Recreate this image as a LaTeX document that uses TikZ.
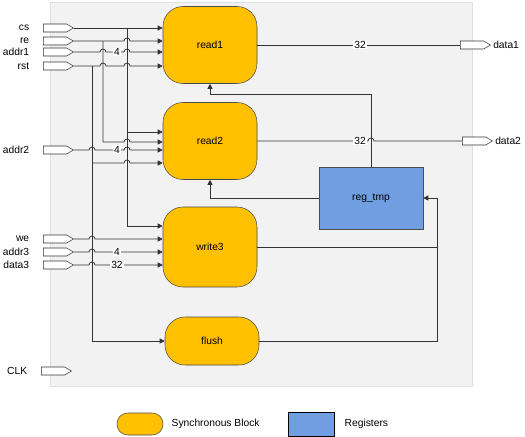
\documentclass[tikz,border=0pt]{standalone}
\usepackage{fontspec}
\setmainfont{Liberation Sans}
\usetikzlibrary{shapes.symbols,arrows.meta}

\definecolor{syncyellow}{RGB}{255,192,0}
\definecolor{regblue}{RGB}{112,158,224}
\definecolor{bggray}{RGB}{242,242,242}

% small hop over a vertical wire at x=#1, y=#2
\newcommand{\hop}[2]{-- (#1-3,#2) arc[start angle=180,end angle=0,radius=2.25pt]}

\tikzset{
  syncblock/.style={draw=black!70, fill=syncyellow, rounded corners=15pt, minimum width=70.5pt, minimum height=57.75pt},
  regblock/.style={draw=black!70, fill=regblue, minimum width=78pt, minimum height=46.5pt},
  port/.style={draw=black!80, fill=white, signal, signal to=east, signal pointer angle=60, minimum width=22.5pt, minimum height=6pt, inner sep=0pt},
  wire/.style={draw=black!80, line width=0.55pt},
  buslbl/.style={fill=white, inner sep=0.6pt},
}

\begin{document}
\begin{tikzpicture}[x=0.75pt, y=-0.75pt, >={Triangle[length=3.8pt,width=3.8pt]},
  every node/.style={font=\fontsize{7.7pt}{9pt}\selectfont}]
\useasboundingbox (0,0) rectangle (525,436);
\draw[black!12, fill=bggray] (50,2) rectangle (472,386);

% blocks
\node[syncblock] (read1) at (210,45) {read1};
\node[syncblock] (read2) at (210,141) {read2};
\node[syncblock, minimum height=60pt] (write3) at (210,247) {write3};
\node[syncblock, minimum height=36pt] (flush) at (212,341) {flush};
\node[regblock] (regtmp) at (371,198) {reg\_tmp};

% ports
\node[port, label={[label distance=7pt]left:cs}] (cs) at (55,28) {};
\node[port, label={[label distance=7pt]left:re}] (re) at (55,41) {};
\node[port, label={[label distance=7pt]left:addr1}] (addr1) at (55,52) {};
\node[port, label={[label distance=7pt]left:rst}] (rst) at (55,66) {};
\node[port, label={[label distance=7pt]left:addr2}] (addr2) at (55,150) {};
\node[port, label={[label distance=7pt]left:we}] (we) at (55,239) {};
\node[port, label={[label distance=7pt]left:addr3}] (addr3) at (55,252) {};
\node[port, label={[label distance=7pt]left:data3}] (data3) at (55,265) {};
\node[port, label={[label distance=7pt]left:CLK}] (clk) at (53,371) {};
\node[port, label={[label distance=0pt, inner sep=1.5pt]right:data1}] (data1) at (472,45) {};
\node[port, label={[label distance=0pt, inner sep=1.5pt]right:data2}] (data2) at (474,141) {};

% inputs
\draw[wire,->] (cs.east) -- (read1.west |- cs.east);
\draw[wire,->] (cs.east -| 127,0) |- (write3.west |- 0,226);
\draw[wire,->] (127,132) -- (read2.west |- 0,132);
\draw[wire,->] (re.east) \hop{127}{41} -- (read1.west |- re.east);
\draw[wire,->] (re.east -| 103,0) -- (103,142) \hop{127}{142} -- (read2.west |- 0,142);
\draw[wire,->] (addr1.east) \hop{103}{52} \hop{127}{52} -- (read1.west |- addr1.east);
\draw[wire,->] (rst.east) \hop{103}{66} \hop{127}{66} -- (read1.west |- rst.east);
\draw[wire,->] (rst.east -| 92,0) |- (flush.west);
\draw[wire,->] (92,163) \hop{127}{163} -- (read2.west |- 0,163);
\draw[wire,->] (addr2.east) \hop{92}{150} \hop{127}{150} -- (read2.west |- addr2.east);
\draw[wire,->] (we.east) \hop{92}{239} -- (write3.west |- we.east);
\draw[wire,->] (addr3.east) \hop{92}{252} -- (write3.west |- addr3.east);
\draw[wire,->] (data3.east) \hop{92}{265} -- (write3.west |- data3.east);

% outputs and feedback
\draw[wire] (read1.east) -- (data1.west);
\draw[wire] (read2.east) \hop{371}{141} -- (data2.west);
\draw[wire,->] (regtmp.north) -- ++(0,-72) -| (read1.south);
\draw[wire,->] (regtmp.west) -| (read2.south);
\draw[wire] (write3.east) -- (write3.east -| 437,0);
\draw[wire,->] (flush.east) -- (flush.east -| 437,0) |- (regtmp.east);

% bus widths
\node[buslbl] (wa1) at (117,52) {4};
\node[buslbl] (wa2) at (117,150) {4};
\node[buslbl] (wa3) at (117,252) {4};
\node[buslbl] (wd3) at (117,265) {32};
\node[buslbl] (wd1) at (360,45) {32};
\node[buslbl] (wd2) at (360,141) {32};

% legend
\node[syncblock, minimum width=34.5pt, minimum height=16.5pt, rounded corners=8pt] (legsync) at (140,424) {};
\node[right] (legsynctxt) at (167,424) {Synchronous Block};
\node[regblock, draw={RGB:red,91;green,155;blue,213}, minimum width=34.5pt, minimum height=18pt] (legreg) at (311,424) {};
\node[right] (legregtxt) at (340,424) {Registers};
\end{tikzpicture}
\end{document}
